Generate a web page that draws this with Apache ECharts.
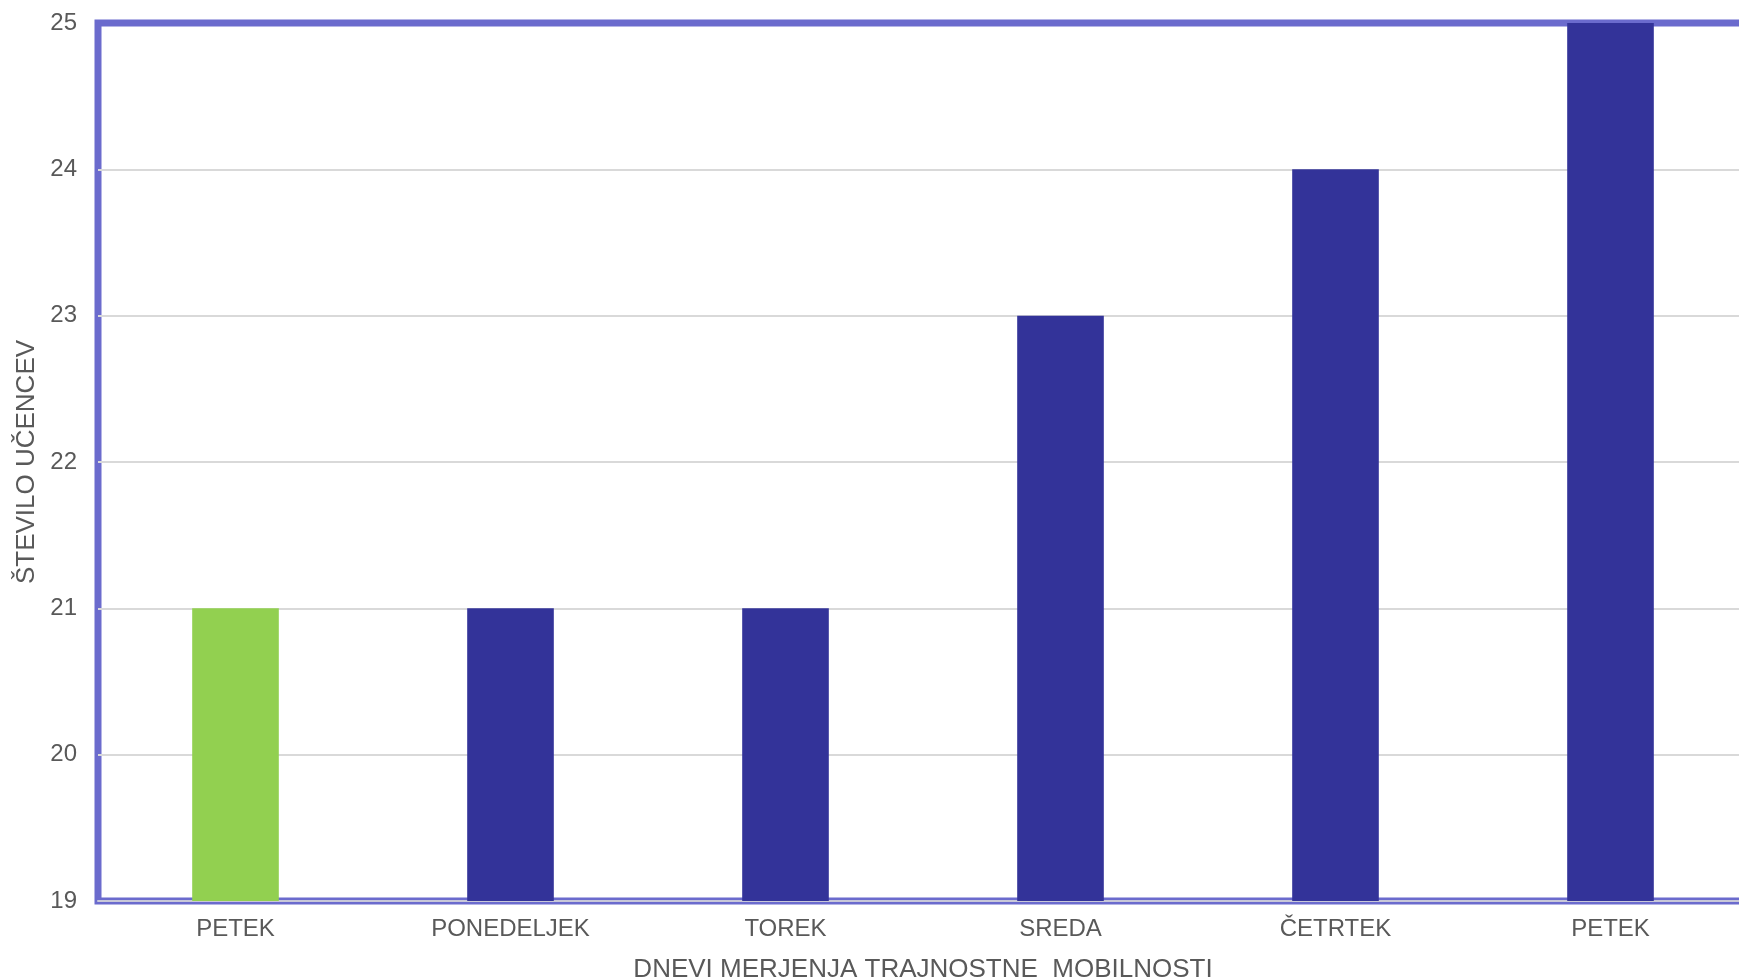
<!DOCTYPE html>
<html>
<head>
<meta charset="utf-8">
<script src="https://cdn.jsdelivr.net/npm/echarts@6/dist/echarts.min.js"></script>
<style>
html,body{margin:0;padding:0;background:#fff;}
#chart{width:1739px;height:979px;}
</style>
</head>
<body>
<div id="chart"></div>
<script>
const categories = ['PETEK', 'PONEDELJEK', 'TOREK', 'SREDA', 'ČETRTEK', 'PETEK'];
const values = [21, 21, 21, 23, 24, 25];
const barColors = ['#92d050', '#333399', '#333399', '#333399', '#333399', '#333399'];
const xAxisTitle = 'DNEVI MERJENJA TRAJNOSTNE  MOBILNOSTI';
const yAxisTitle = 'ŠTEVILO UČENCEV';

const chart = echarts.init(document.getElementById('chart'));
chart.setOption({
  animation: false,
  backgroundColor: '#ffffff',
  textStyle: { fontFamily: 'Liberation Sans, Arial, sans-serif' },
  grid: {
    show: true,
    outerBoundsMode: 'none',
    containLabel: false,
    left: 98, top: 23, width: 1650, height: 878,
    borderColor: '#6b6bcd', borderWidth: 7,
    backgroundColor: 'transparent'
  },
  xAxis: {
    type: 'category',
    data: categories,
    name: xAxisTitle,
    nameLocation: 'middle',
    nameGap: 56,
    nameTextStyle: { color: '#595959', fontSize: 26 },
    axisLine: { show: true, lineStyle: { color: '#c8c8d8', width: 2 } },
    axisTick: { show: false },
    axisLabel: { color: '#595959', fontSize: 24, margin: 16 }
  },
  yAxis: {
    type: 'value',
    min: 19, max: 25, interval: 1,
    name: yAxisTitle,
    nameLocation: 'middle',
    nameGap: 54,
    nameTextStyle: { color: '#595959', fontSize: 26 },
    axisLine: { show: false },
    axisTick: { show: false },
    axisLabel: { color: '#595959', fontSize: 24, margin: 21 },
    splitLine: { show: true, showMaxLine: false, lineStyle: { color: '#d9d9d9', width: 2 } }
  },
  series: [{
    type: 'bar',
    barWidth: '31.5%',
    data: values.map((v, i) => ({ value: v, itemStyle: { color: barColors[i] } })),
    clip: true
  }]
});
</script>
</body>
</html>
